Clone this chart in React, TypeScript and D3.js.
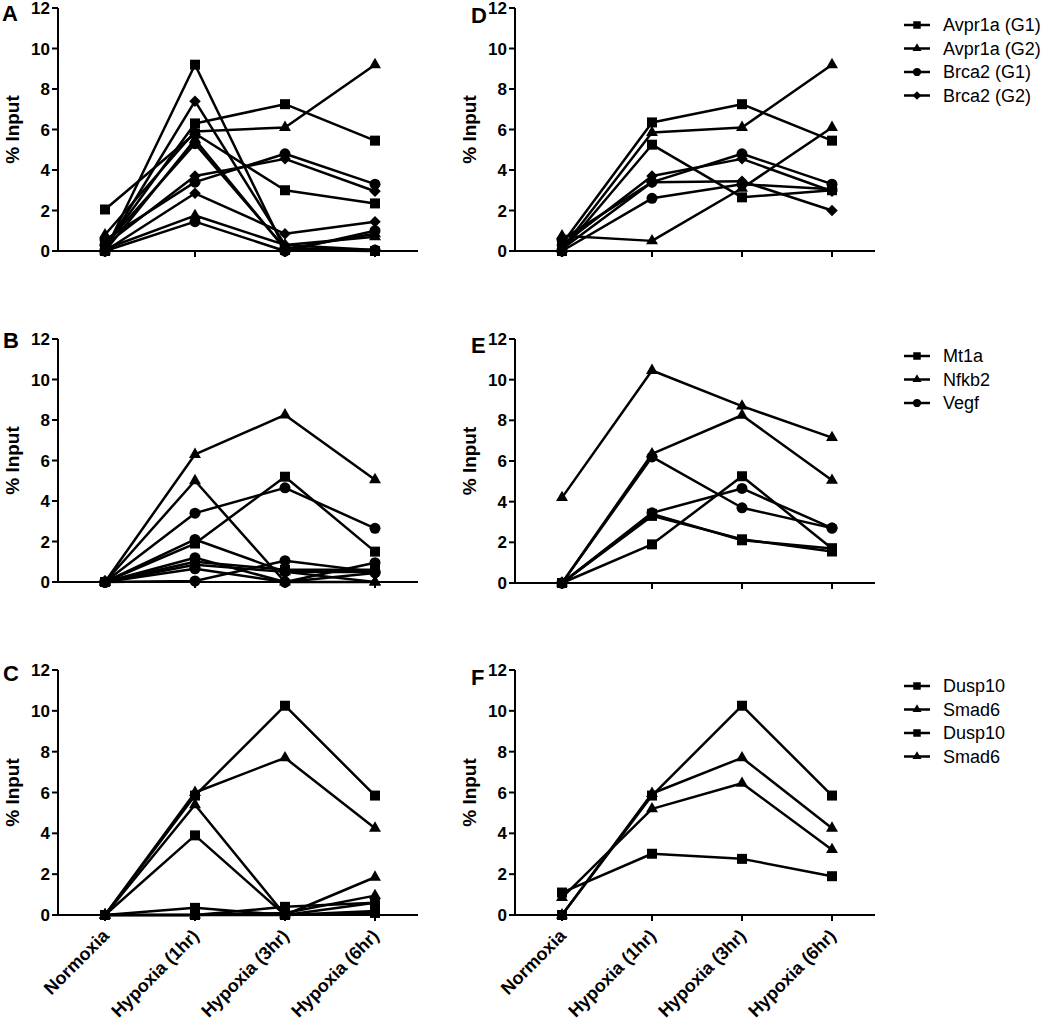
import React from "react";
import * as d3 from "d3";

const categories = ["Normoxia", "Hypoxia (1hr)", "Hypoxia (3hr)", "Hypoxia (6hr)"];
const yTicks = [0, 2, 4, 6, 8, 10, 12];

// symbols: S square, T triangle, C circle, D diamond
const panelASymbols = ["S", "S", "S", "T", "T", "T", "C", "C", "C", "D", "D", "D"];
const panelAValues = [
  [0.2, 6.3, 7.25, 5.45],
  [2.05, 5.8, 3.0, 2.35],
  [0, 9.2, 0.05, 0],
  [0.8, 5.9, 6.1, 9.2],
  [0.1, 1.75, 0.3, 0.7],
  [0, 5.5, 0.1, 0.85],
  [0.55, 3.4, 4.8, 3.3],
  [0, 1.45, 0, 1.0],
  [0.3, 5.3, 0.15, 0.05],
  [0.3, 3.7, 4.55, 2.95],
  [0, 2.85, 0.85, 1.45],
  [0.1, 7.4, 0.3, 0.05],
];

const panelBSymbols = ["T", "T", "C", "S", "C", "C", "C", "S", "T", "C"];
const panelBValues = [
  [0, 6.3, 8.25, 5.05],
  [0, 5.0, 0, 0],
  [0, 3.4, 4.65, 2.65],
  [0, 1.9, 5.2, 1.5],
  [0, 2.1, 0.5, 0.5],
  [0, 0.05, 1.05, 0.5],
  [0, 1.2, 0, 0.95],
  [0, 1.0, 0.6, 0.6],
  [0, 0.85, 0.5, 0],
  [0, 0.65, 0, 0.45],
];

const panelCSymbols = ["S", "T", "T", "S", "S", "S", "T", "S"];
const panelCValues = [
  [0, 5.85, 10.25, 5.85],
  [0, 6.0, 7.7, 4.25],
  [0, 5.4, 0, 1.85],
  [0, 3.9, 0, 0.6],
  [0, 0.35, 0, 0.2],
  [0, 0, 0.4, 0.6],
  [0, 0, 0.1, 0.95],
  [0, 0, 0, 0.1],
];

const panelDSymbols = ["S", "T", "S", "C", "D", "C", "T", "D"];
const panelDValues = [
  [0.35, 6.35, 7.25, 5.45],
  [0.1, 5.85, 6.1, 9.2],
  [0, 5.25, 2.65, 3.0],
  [0.55, 3.4, 4.8, 3.3],
  [0.3, 3.7, 4.55, 2.95],
  [0, 2.6, 3.3, 3.05],
  [0.75, 0.5, 3.1, 6.1],
  [0.1, 3.4, 3.45, 2.0],
];

const panelESymbols = ["T", "T", "C", "C", "S", "S", "S"];
const panelEValues = [
  [4.2, 10.45, 8.7, 7.15],
  [0, 6.35, 8.25, 5.05],
  [0, 6.2, 3.7, 2.7],
  [0, 3.45, 4.65, 2.7],
  [0, 1.9, 5.25, 1.7],
  [0, 3.3, 2.15, 1.55],
  [0, 3.4, 2.1, 1.7],
];

const panelFSymbols = ["S", "T", "S", "T"];
const panelFValues = [
  [0, 5.85, 10.25, 5.85],
  [0, 5.95, 7.7, 4.25],
  [1.1, 3.0, 2.75, 1.9],
  [0.85, 5.2, 6.45, 3.2],
];

const legendDLabels = ["Avpr1a (G1)", "Avpr1a (G2)", "Brca2 (G1)", "Brca2 (G2)"];
const legendDSymbols = ["S", "T", "C", "D"];
const legendELabels = ["Mt1a", "Nfkb2", "Vegf"];
const legendESymbols = ["S", "T", "C"];
const legendFLabels = ["Dusp10", "Smad6", "Dusp10", "Smad6"];
const legendFSymbols = ["S", "T", "S", "T"];

function symbolPath(sym: string, scale = 1): { d: string; rot: number } {
  const gen = d3.symbol();
  if (sym === "S") return { d: gen.type(d3.symbolSquare).size(100 * scale * scale)()!, rot: 0 };
  if (sym === "T") return { d: gen.type(d3.symbolTriangle).size(62 * scale * scale)()!, rot: 0 };
  if (sym === "C") return { d: gen.type(d3.symbolCircle).size(95 * scale * scale)()!, rot: 0 };
  return { d: gen.type(d3.symbolSquare).size(66 * scale * scale)()!, rot: 45 };
}

const FONT = "'Liberation Sans', Arial, Helvetica, sans-serif";

function Marker({ sym, x, y, scale = 1 }: { sym: string; x: number; y: number; scale?: number }) {
  const p = symbolPath(sym, scale);
  return <path d={p.d} transform={`translate(${x},${y}) rotate(${p.rot})`} fill="#000" />;
}

function Panel({
  x0, top, bottom, letter, letterX, letterY, showXLabels, symbols, values,
}: {
  x0: number; top: number; bottom: number; letter: string; letterX: number; letterY: number; showXLabels: boolean;
  symbols: string[]; values: number[][];
}) {
  const width = 360;
  const x = d3.scalePoint<string>().domain(categories).range([x0 + 2, x0 + 2 + width]).padding(0.5);
  const y = d3.scaleLinear().domain([0, 12]).range([bottom, top]);
  const line = d3.line<number>().x((_, i) => x(categories[i])!).y((v) => y(v));
  const mid = (top + bottom) / 2;
  return (
    <g>
      <text x={letterX} y={letterY} fontFamily={FONT} fontWeight="bold" fontSize={22}>
        {letter}
      </text>
      <text transform={`translate(${x0 - 39},${mid}) rotate(-90)`} textAnchor="middle" fontFamily={FONT} fontWeight="bold" fontSize={19}>
        % Input
      </text>
      {/* y axis */}
      <line x1={x0} x2={x0} y1={top} y2={bottom} stroke="#000" strokeWidth={2} />
      {yTicks.map((t) => (
        <g key={t}>
          <line x1={x0 - 6} x2={x0} y1={y(t)} y2={y(t)} stroke="#000" strokeWidth={2} />
          <text x={x0 - 8} y={y(t)} dy="0.36em" textAnchor="end" fontFamily={FONT} fontWeight="bold" fontSize={17}>
            {t}
          </text>
        </g>
      ))}
      {/* x axis */}
      <line x1={x0} x2={x0 + width} y1={bottom} y2={bottom} stroke="#000" strokeWidth={2} />
      {categories.map((c) => (
        <g key={c}>
          <line x1={x(c)!} x2={x(c)!} y1={bottom} y2={bottom + 6} stroke="#000" strokeWidth={2} />
          {showXLabels && (
            <text
              transform={`translate(${x(c)! + 5},${bottom + 22}) rotate(-45)`}
              textAnchor="end"
              fontFamily={FONT}
              fontWeight="bold"
              fontSize={18}
            >
              {c}
            </text>
          )}
        </g>
      ))}
      {values.map((vals, i) => (
        <path key={"l" + i} d={line(vals)!} fill="none" stroke="#000" strokeWidth={2.5} strokeLinejoin="round" />
      ))}
      {values.map((vals, i) =>
        vals.map((v, j) => <Marker key={`m${i}-${j}`} sym={symbols[i]} x={x(categories[j])!} y={y(v)} />)
      )}
    </g>
  );
}

function Legend({ x, y0, labels, symbols }: { x: number; y0: number; labels: string[]; symbols: string[] }) {
  return (
    <g>
      {labels.map((l, i) => {
        const yy = y0 + i * 23.5;
        return (
          <g key={i}>
            <line x1={x} x2={x + 26} y1={yy} y2={yy} stroke="#000" strokeWidth={2.5} />
            <Marker sym={symbols[i]} x={x + 13} y={yy} scale={0.75} />
            <text x={x + 39} y={yy} dy="0.36em" fontFamily={FONT} fontSize={18}>
              {l}
            </text>
          </g>
        );
      })}
    </g>
  );
}

export default function App() {
  return (
    <svg width={1050} height={1022} style={{ display: "block", position: "absolute", left: 0, top: 0, background: "#fff" }}>
      <rect width={1050} height={1022} fill="#fff" />
      <Panel x0={58} top={8} bottom={251} letter="A" letterX={2} letterY={21} showXLabels={false} symbols={panelASymbols} values={panelAValues} />
      <Panel x0={58} top={339} bottom={582} letter="B" letterX={3} letterY={348} showXLabels={false} symbols={panelBSymbols} values={panelBValues} />
      <Panel x0={58} top={670} bottom={915} letter="C" letterX={3} letterY={681} showXLabels symbols={panelCSymbols} values={panelCValues} />
      <Panel x0={515} top={8} bottom={251} letter="D" letterX={471} letterY={23} showXLabels={false} symbols={panelDSymbols} values={panelDValues} />
      <Panel x0={515} top={339} bottom={583} letter="E" letterX={471} letterY={353} showXLabels={false} symbols={panelESymbols} values={panelEValues} />
      <Panel x0={515} top={670} bottom={915} letter="F" letterX={471} letterY={685} showXLabels symbols={panelFSymbols} values={panelFValues} />
      <Legend x={904} y0={25} labels={legendDLabels} symbols={legendDSymbols} />
      <Legend x={904} y0={356} labels={legendELabels} symbols={legendESymbols} />
      <Legend x={904} y0={686} labels={legendFLabels} symbols={legendFSymbols} />
    </svg>
  );
}
